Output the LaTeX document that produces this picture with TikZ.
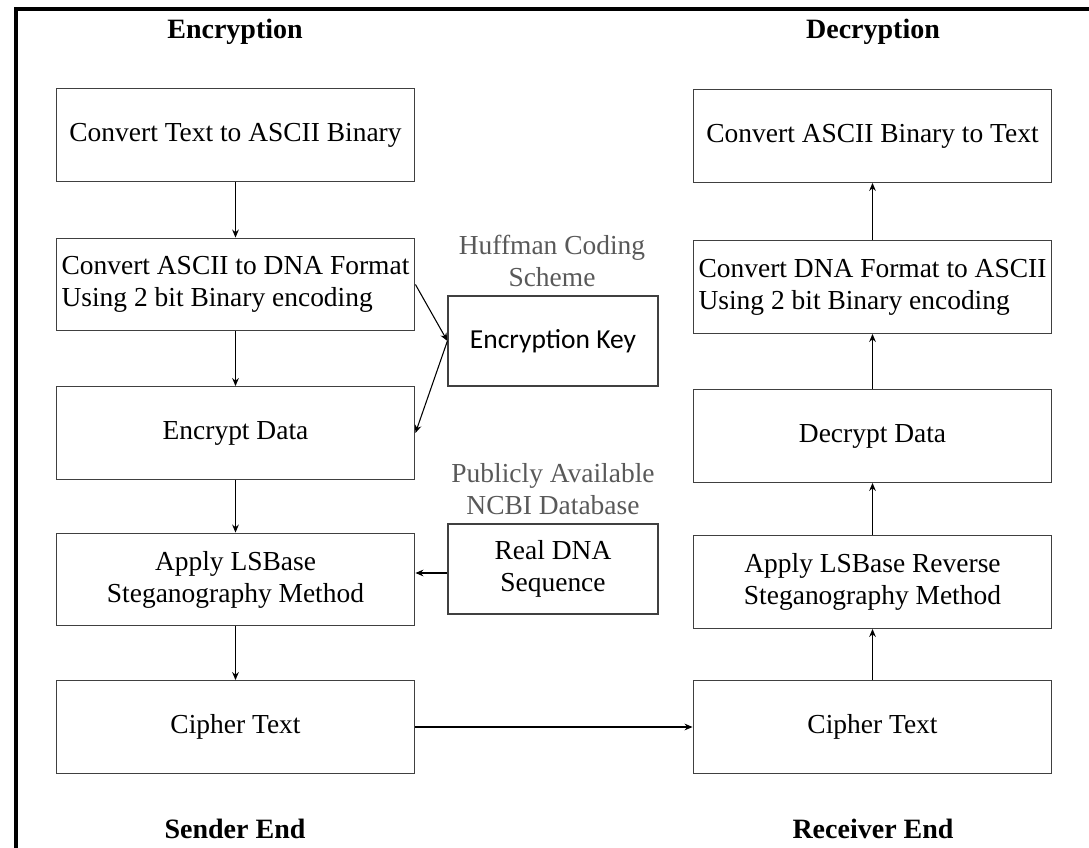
\documentclass[tikz,border=0pt]{standalone}
\usepackage{fontspec}
\setmainfont{Liberation Serif}
\newfontfamily\keyfont{Carlito}
\usetikzlibrary{arrows.meta,positioning}
\definecolor{boxline}{HTML}{404040}
\definecolor{notegray}{HTML}{595959}

\begin{document}
\begin{tikzpicture}[
  x=0.75pt, y=-0.75pt,
  font=\fontsize{20.6pt}{24pt}\selectfont,
  stage/.style={draw=boxline, line width=0.9pt, minimum width=269pt, minimum height=69.5pt, align=center, inner sep=2pt},
  side/.style={stage, minimum width=157.5pt, minimum height=67.5pt},
  note/.style={text=notegray, align=center, inner sep=0pt},
  title/.style={font=\fontsize{21pt}{25pt}\selectfont\bfseries, inner sep=0pt},
  flow/.style={-{Stealth[length=6pt,width=5pt]}, line width=0.8pt},
  >=Stealth
]
\useasboundingbox (0,0) rectangle (1089,848);
\draw[line width=2.6pt] (16,848) -- (16,9) -- (1089,9);

\node[title] (enc) at (235,32) {Encryption};
\node[title] (dec) at (873,32) {Decryption};
\node[title] (snd) at (235,829) {Sender End};
\node[title] (rcv) at (873,829) {Receiver End};

\node[stage] (txt2bin) at (235.5,135) {Convert Text to ASCII Binary};
\node[stage, align=left] (asc2dna) at (235.5,284.5) {Convert ASCII to DNA Format\\Using 2 bit Binary encoding};
\node[stage] (encdata) at (235.5,433) {Encrypt Data};
\node[stage] (lsb) at (235.5,579.5) {Apply LSBase\\Steganography Method};
\node[stage] (ctx) at (235.5,727) {Cipher Text};

\node[stage] (bin2txt) at (872.5,136) {Convert ASCII Binary to Text};
\node[stage, align=left] (dna2asc) at (872.5,287) {Convert DNA Format to ASCII\\Using 2 bit Binary encoding};
\node[stage] (decdata) at (872.5,436) {Decrypt Data};
\node[stage] (revlsb) at (872.5,582) {Apply LSBase Reverse\\Steganography Method};
\node[stage] (rctx) at (872.5,727) {Cipher Text};

\node[side] (key) at (553,341) {\keyfont Encryption Key};
\node[side] (dna) at (553,569) {Real DNA\\Sequence};
\node[note] (huff) at (552,261) {Huffman Coding\\Scheme};
\node[note] (ncbi) at (553,489) {Publicly Available\\NCBI Database};

\draw[flow] (txt2bin) -- (asc2dna);
\draw[flow] (asc2dna) -- (encdata);
\draw[flow] (encdata) -- (lsb);
\draw[flow] (lsb) -- (ctx);
\draw[flow] (asc2dna.east) -- (key.west);
\draw[flow] (key.west) -- (encdata.east);
\draw[flow] ([yshift=-3pt]dna.west) -- ([yshift=-3pt]dna.west -| lsb.east);
\draw[flow] (ctx) -- (rctx);

\draw[flow] (rctx) -- (revlsb);
\draw[flow] (revlsb) -- (decdata);
\draw[flow] (decdata) -- (dna2asc);
\draw[flow] (dna2asc) -- (bin2txt);

\end{tikzpicture}
\end{document}
